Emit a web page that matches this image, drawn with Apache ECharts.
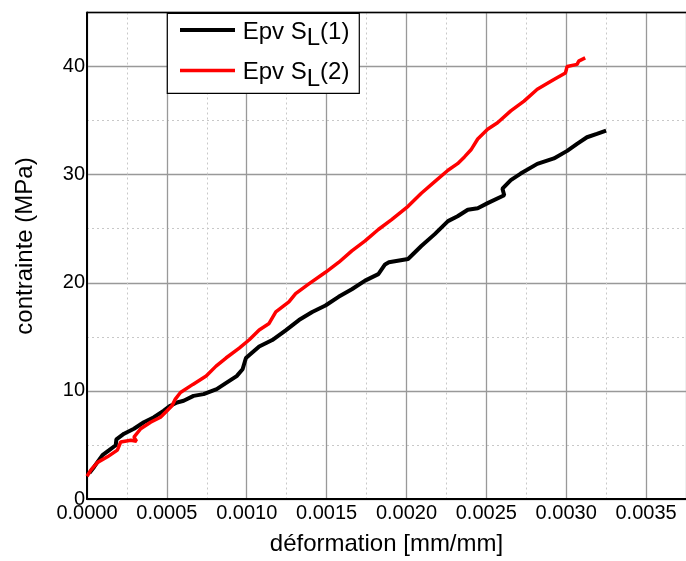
<!DOCTYPE html>
<html>
<head>
<meta charset="utf-8">
<script src="https://cdn.jsdelivr.net/npm/echarts@6/dist/echarts.min.js"></script>
<style>
html,body{margin:0;padding:0;background:#fff;}
#c{width:686px;height:561px;}
</style>
</head>
<body>
<div id="c"></div>
<script>
// Epv SL(1) - black
var strain1 = [0.0000149, 0.0000454, 0.000097, 0.000139, 0.000180, 0.000184, 0.000232, 0.000294, 0.000356, 0.000419, 0.000481, 0.000522, 0.000564, 0.000605, 0.000667, 0.000730, 0.000812, 0.000874, 0.000937, 0.000974, 0.000995, 0.001078, 0.001160, 0.001244, 0.001327, 0.001410, 0.001493, 0.001575, 0.001658, 0.001741, 0.001824, 0.001866, 0.001890, 0.002010, 0.002093, 0.002177, 0.002260, 0.002320, 0.002384, 0.002446, 0.002508, 0.002612, 0.002601, 0.002653, 0.002715, 0.002819, 0.002923, 0.003006, 0.003068, 0.003130, 0.003192, 0.003250];
var stress1 = [2.39, 2.99, 4.06, 4.52, 4.97, 5.52, 6.04, 6.50, 7.10, 7.56, 8.17, 8.63, 8.93, 9.09, 9.54, 9.70, 10.16, 10.76, 11.37, 12.0, 13.04, 14.1, 14.7, 15.6, 16.55, 17.3, 17.9, 18.7, 19.4, 20.2, 20.8, 21.7, 21.9, 22.2, 23.4, 24.5, 25.7, 26.15, 26.76, 26.9, 27.37, 28.1, 28.7, 29.5, 30.1, 31.0, 31.5, 32.2, 32.85, 33.46, 33.77, 34.07];
// Epv SL(2) - red
var strain2 = [0, 0.000025, 0.000066, 0.000128, 0.000190, 0.000211, 0.000274, 0.000310, 0.000294, 0.000336, 0.000398, 0.000460, 0.000501, 0.000532, 0.000553, 0.000585, 0.000663, 0.000746, 0.000808, 0.000870, 0.000953, 0.001016, 0.001078, 0.001140, 0.001182, 0.001264, 0.001306, 0.001389, 0.001493, 0.001575, 0.001658, 0.001741, 0.001824, 0.001907, 0.002010, 0.002093, 0.002177, 0.002260, 0.002320, 0.002363, 0.002404, 0.002446, 0.002508, 0.002570, 0.002653, 0.002736, 0.002819, 0.002923, 0.002995, 0.003006, 0.003068, 0.003078, 0.003119];
var stress2 = [2.1, 2.69, 3.39, 3.9, 4.52, 5.27, 5.43, 5.35, 5.73, 6.5, 7.1, 7.56, 8.17, 8.63, 9.24, 9.85, 10.6, 11.37, 12.29, 13.04, 13.96, 14.73, 15.64, 16.24, 17.31, 18.23, 18.99, 19.9, 20.97, 21.88, 22.95, 23.87, 24.93, 25.84, 27.07, 28.28, 29.35, 30.41, 31.02, 31.64, 32.3, 33.3, 34.2, 34.8, 35.9, 36.8, 37.9, 38.8, 39.4, 40.0, 40.2, 40.5, 40.8];

var xTicks = [0, 0.0005, 0.0010, 0.0015, 0.0020, 0.0025, 0.0030, 0.0035];
var yTicks = [0, 10, 20, 30, 40];
var legendMain = ['Epv S', 'Epv S'];
var legendSub = ['L', 'L'];
var legendTail = ['(1)', '(2)'];
var yTitle = 'contrainte (MPa)';
var xTitle = 'déformation [mm/mm]';

function pairs(xs, ys){ var out=[]; for(var i=0;i<xs.length;i++){ out.push([xs[i], ys[i]]);} return out; }

var font = '"Liberation Sans", Arial, sans-serif';
var legFs = 24;
var mctx = document.createElement('canvas').getContext('2d');
mctx.font = legFs + 'px ' + font;
function tw(s){ return mctx.measureText(s).width; }

var graphics = [
  {type:'rect', shape:{x:167.3, y:13.3, width:192, height:80}, style:{fill:'#fff', stroke:'#000', lineWidth:1.2}, z:100},
  {type:'line', shape:{x1:87, y1:12.5, x2:686, y2:12.5}, style:{stroke:'#000', lineWidth:1.5}, z:99},
  {type:'line', shape:{x1:180, y1:30, x2:235, y2:30}, style:{stroke:'#000', lineWidth:4}, z:101},
  {type:'line', shape:{x1:180, y1:70.5, x2:235, y2:70.5}, style:{stroke:'#f00', lineWidth:3.5}, z:101},
  {type:'text', x:25, y:246, rotation:Math.PI/2, z:101, style:{text:yTitle, font:'24px '+font, fill:'#000', align:'center', verticalAlign:'middle'}}
];
var rowY = [32, 72.5];
for (var r=0;r<2;r++){
  var x0 = 242.7;
  var w1 = tw(legendMain[r]);
  var w2 = tw(legendSub[r]);
  graphics.push({type:'text', x:x0, y:rowY[r], z:101, style:{text:legendMain[r], font: legFs+'px '+font, fill:'#000', verticalAlign:'middle', align:'left'}});
  graphics.push({type:'text', x:x0+w1, y:rowY[r]+6.5, z:101, style:{text:legendSub[r], font: legFs+'px '+font, fill:'#000', verticalAlign:'middle', align:'left'}});
  graphics.push({type:'text', x:x0+w1+w2, y:rowY[r], z:101, style:{text:legendTail[r], font: legFs+'px '+font, fill:'#000', verticalAlign:'middle', align:'left'}});
}

var chart = echarts.init(document.getElementById('c'), null, {renderer:'canvas'});
chart.setOption({
  animation:false,
  backgroundColor:'#fff',
  grid:{left:87, top:12.5, width:603, height:492},
  xAxis:{
    type:'value', min:0, max:0.00375, interval:0.0005,
    name:xTitle, nameLocation:'middle', nameGap:33,
    nameTextStyle:{fontFamily:font, fontSize:24, color:'#000'},
    axisLine:{show:true, lineStyle:{color:'#000', width:2}},
    axisTick:{show:false},
    axisLabel:{fontFamily:font, fontSize:20, color:'#000', margin:4, showMaxLabel:false,
      formatter:function(v){ return v.toFixed(4); }},
    splitLine:{show:true, lineStyle:{color:'#999', width:1.3}},
    minorTick:{show:false, splitNumber:2},
    minorSplitLine:{show:true, lineStyle:{color:'#c8c8c8', width:1, type:[2,3]}}
  },
  yAxis:{
    type:'value', min:0, max:45, interval:10,
    axisLine:{show:true, lineStyle:{color:'#000', width:2}},
    axisTick:{show:false},
    axisLabel:{fontFamily:font, fontSize:20, color:'#000', margin:2, showMaxLabel:false},
    splitLine:{show:true, lineStyle:{color:'#999', width:1.3}},
    minorTick:{show:false, splitNumber:2},
    minorSplitLine:{show:true, lineStyle:{color:'#c8c8c8', width:1, type:[2,3]}}
  },
  series:[
    {name:'Epv SL(1)', type:'line', showSymbol:false, data:pairs(strain1, stress1), lineStyle:{color:'#000', width:4}, z:3},
    {name:'Epv SL(2)', type:'line', showSymbol:false, data:pairs(strain2, stress2), lineStyle:{color:'#f00', width:3.5}, z:4}
  ],
  graphic:graphics
});
</script>
</body>
</html>
